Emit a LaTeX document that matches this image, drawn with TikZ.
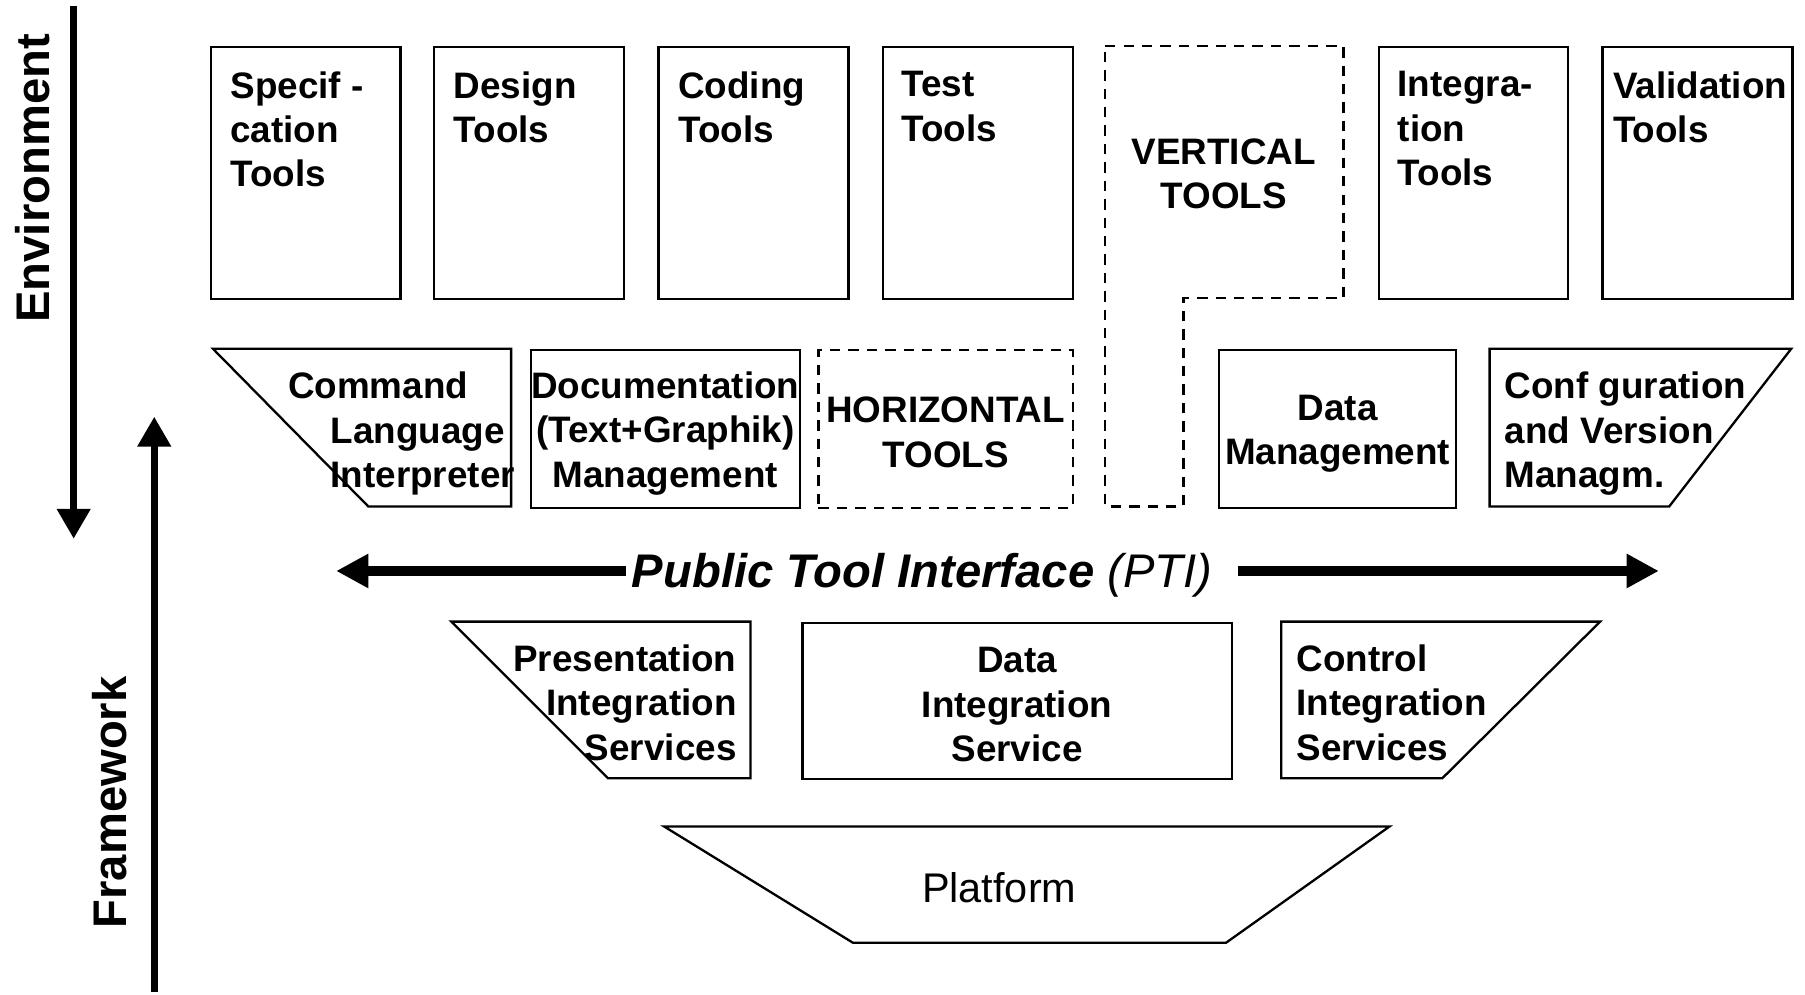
\documentclass[tikz,border=0pt]{standalone}
\usepackage{fontspec}
\setmainfont{Liberation Sans}
\usetikzlibrary{arrows.meta}

\tikzset{
  boxfr/.style={draw, line width=2pt, inner sep=0pt, anchor=north west},
  toolbox/.style={boxfr, minimum width=165pt, minimum height=219pt},
  lowbox/.style={boxfr, minimum height=137pt},
  dashbox/.style={dash pattern=on 9pt off 7pt},
  lbl/.style={font=\bfseries\fontsize{32}{38.5}\selectfont, inner sep=0pt},
  sidelbl/.style={font=\bfseries\fontsize{41}{48}\selectfont, inner sep=0pt, rotate=90},
  fatarrow/.style={line width=6pt, -{Triangle[length=26pt,width=28pt]}},
  ptiarrow/.style={line width=8pt, -{Triangle[length=28pt,width=28pt]}},
}

\begin{document}
\begin{tikzpicture}[x=1pt,y=-1pt]
  \useasboundingbox[fill=white] (0,0) rectangle (1568,864);

  % tools on top
  \node[toolbox] (spec) at (182,40) {};
  \node[toolbox] (design) at (376,40) {};
  \node[toolbox] (coding) at (571,40) {};
  \node[toolbox] (test) at (766,40) {};
  \node[toolbox, minimum width=164pt] (integ) at (1197,40) {};
  \node[toolbox] (valid) at (1391,40) {};
  \node[lbl, anchor=north west, align=left] (specT) at ([shift={(18,22)}]spec.north west) {Specif -\\cation\\Tools};
  \node[lbl, anchor=north west, align=left] (designT) at ([shift={(18,22)}]design.north west) {Design\\Tools};
  \node[lbl, anchor=north west, align=left] (codingT) at ([shift={(18,22)}]coding.north west) {Coding\\Tools};
  \node[lbl, anchor=north west, align=left] (testT) at ([shift={(17,22)}]test.north west) {Test\\Tools};
  \node[lbl, anchor=north west, align=left] (integT) at ([shift={(17,22)}]integ.north west) {Integra-\\tion\\Tools};
  \node[lbl, anchor=north west, align=left] (validT) at ([shift={(10,22)}]valid.north west) {Validation\\Tools};

  \draw[line width=2pt, dashbox] (960,40) -- (1167,40) -- (1167,259) -- (1028,259) -- (1028,440) -- (960,440) -- cycle;
  \node[lbl, align=center] (vertT) at (1063,151) {VERTICAL\\TOOLS};

  % horizontal tools
  \draw[line width=2pt] (185,303) -- (444,303) -- (444,440) -- (320,440) -- cycle;
  \node[lbl, anchor=north west, align=left] (cliT) at (287,323) {\hspace*{-37pt}Command\\Language\\Interpreter};
  \node[lowbox, minimum width=234pt] (doc) at (460,303) {};
  \node[lbl, align=center] (docT) at ([yshift=-4pt]doc.center) {Documentation\\(Text+Graphik)\\Management};
  \node[lowbox, dashbox, minimum width=221pt] (horiz) at (710,303) {};
  \node[lbl, align=center] (horizT) at ([yshift=-3pt]horiz.center) {HORIZONTAL\\TOOLS};
  \node[lowbox, minimum width=206pt] (dm) at (1058,303) {};
  \node[lbl, align=center] (dmT) at ([yshift=-4pt]dm.center) {Data\\Management};
  \draw[line width=2pt] (1294,303) -- (1556,303) -- (1450,440) -- (1294,440) -- cycle;
  \node[lbl, anchor=north west, align=left] (confT) at (1307,323) {Conf guration\\and Version\\Managm.};

  % PTI
  \node[font=\fontsize{41}{48}\selectfont, inner sep=0pt] (pti) at (801,500) {\bfseries\itshape Public Tool Interface \mdseries(PTI)};
  \coordinate (ptiL) at (292,496); \coordinate (ptiR) at (1441,496);
  \draw[ptiarrow] (pti.west |- ptiL) ++(-5,0) -- (ptiL);
  \draw[ptiarrow] (pti.east |- ptiR) ++(22,0) -- (ptiR);

  % framework services
  \draw[line width=2pt] (392,540) -- (652,540) -- (652,676) -- (528,676) -- cycle;
  \node[lbl, anchor=north east, align=right] (presT) at (640,560) {Presentation\\Integration\\Services};
  \node[boxfr, minimum width=373pt, minimum height=136pt] (dis) at (696,540) {};
  \node[lbl, align=center] (disT) at ([yshift=-3pt]dis.center) {Data\\Integration\\Service};
  \draw[line width=2pt] (1113,540) -- (1390,540) -- (1253,676) -- (1113,676) -- cycle;
  \node[lbl, anchor=north west, align=left] (ctrlT) at (1126,560) {Control\\Integration\\Services};

  % platform
  \draw[line width=2pt] (577,718) -- (1207,718) -- (1065,819) -- (741,819) -- cycle;
  \node[font=\fontsize{36}{43}\selectfont, inner sep=0pt] (plat) at (868,771) {Platform};

  % side arrows
  \coordinate (envS) at (64,5); \coordinate (envE) at (64,468);
  \draw[fatarrow] (envS) -- (envE);
  \node[sidelbl] (envT) at (28,155) {Environment};
  \coordinate (fwS) at (134,862); \coordinate (fwE) at (134,362);
  \draw[fatarrow] (fwS) -- (fwE);
  \node[sidelbl] (fwT) at (95,697) {Framework};
\end{tikzpicture}
\end{document}
